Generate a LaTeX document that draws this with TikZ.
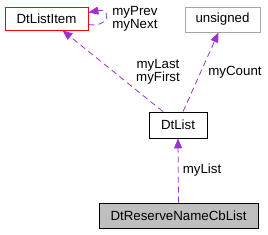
\documentclass[tikz,border=0pt]{standalone}
\usepackage{fontspec}
\setmainfont{Liberation Sans}
\usetikzlibrary{arrows.meta}

\definecolor{edgecol}{HTML}{9A32CD}
\definecolor{cbfill}{HTML}{BFBFBF}

\begin{document}
\begin{tikzpicture}[x=1pt, y=-1pt, line width=0.8pt,
  box/.style={draw, rectangle, inner sep=0pt, font=\fontsize{13.3}{14}\selectfont},
  edge/.style={draw=edgecol, dashed, dash pattern=on 6pt off 4pt, -{Triangle[length=10pt,width=8pt,fill=edgecol]}},
  lbl/.style={font=\fontsize{13.3}{13}\selectfont, inner sep=0pt}]

  %% boxes
  \node[box, draw=red, minimum width=83pt, minimum height=23pt] (item) at (46.5,18.5) {DtListItem};
  \node[box, draw=gray!70, minimum width=75pt, minimum height=25pt] (uns) at (222.5,19.5) {unsigned};
  \node[box, minimum width=58pt, minimum height=26pt] (list) at (178,125) {DtList};
  \node[box, fill=cbfill, minimum width=159pt, minimum height=25pt] (cb) at (178.5,215.5) {DtReserveNameCbList};

  %% connectors
  \draw[edge] ([xshift=-15pt]list.north) -- ([xshift=16pt]item.south);
  \draw[edge] ([xshift=5pt]list.north) -- ([xshift=-4pt]uns.south);
  \draw[edge] (cb.north) -- (list.south);
  \draw[edge] ([yshift=-6pt]item.east) .. controls (110,28) and (112,8) .. ([yshift=6pt]item.east);

  %% labels
  \node[lbl, align=center] (lastfirst) at (158,72) {myLast\\myFirst};
  \node[lbl] (count) at (235,72) {myCount};
  \node[lbl] (mylist) at (202,170) {myList};
  \node[lbl, align=left, anchor=west] (prevnext) at (112,18.5) {myPrev\\myNext};

  \pgfresetboundingbox
  \path[use as bounding box] (0,0) rectangle (268,235);
\end{tikzpicture}
\end{document}
